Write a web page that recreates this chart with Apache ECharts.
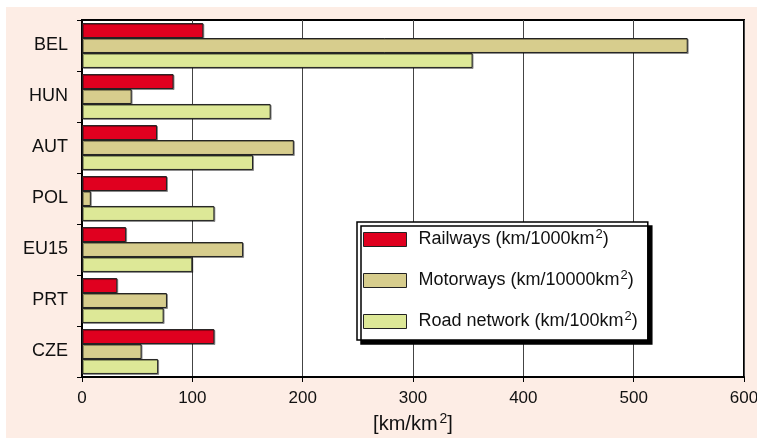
<!DOCTYPE html>
<html>
<head>
<meta charset="utf-8">
<script src="https://cdn.jsdelivr.net/npm/echarts@6/dist/echarts.min.js"></script>
<style>
  body { margin: 0; background: #fff; }
  #bg { position: absolute; left: 6px; top: 7px; width: 751px; height: 431px; background: #fdede5; }
  #main { position: absolute; left: 0; top: 0; width: 757px; height: 438px; }
</style>
</head>
<body>
<div id="bg"></div>
<div id="main"></div>
<script>
// countries, top to bottom
var countries = ['BEL', 'HUN', 'AUT', 'POL', 'EU15', 'PRT', 'CZE'];
var railways = [110, 83, 68, 77, 40, 32, 120];       // km/1000km2
var motorways = [549, 45, 192, 8, 146, 77, 54];      // km/10000km2
var roadNetwork = [354, 171, 155, 120, 100, 74, 69]; // km/100km2
var xTicks = [0, 100, 200, 300, 400, 500, 600];

var seriesNames = ['Railways (km/1000km{s|2})', 'Motorways (km/10000km{s|2})', 'Road network (km/100km{s|2})'];

var myChart = echarts.init(document.getElementById('main'));

function mkSeries(name, data, color) {
  return {
    name: name,
    type: 'bar',
    data: data,
    barGap: '0%',
    barCategoryGap: '12%',
    itemStyle: {
      color: color,
      borderColor: '#222',
      borderWidth: 1,
      shadowColor: 'rgba(0,0,0,0.35)',
      shadowOffsetX: 1,
      shadowOffsetY: 1
    }
  };
}

var option = {
  animation: false,
  textStyle: { fontFamily: 'Liberation Sans, Arial, sans-serif' },
  grid: {
    left: 82, right: 13, top: 20, bottom: 61,
    outerBoundsMode: 'none', containLabel: false,
    show: true, borderColor: '#000', borderWidth: 2, backgroundColor: '#fff'
  },
  legend: {
    orient: 'vertical',
    left: 357,
    top: 222,
    padding: [6, 10, 7, 6],
    icon: 'rect',
    itemWidth: 43,
    itemHeight: 14,
    itemGap: 18,
    backgroundColor: '#fff',
    borderColor: '#000',
    borderWidth: 1.5,
    shadowColor: '#000',
    shadowOffsetX: 4,
    shadowOffsetY: 4,
    shadowBlur: 0,
    itemStyle: { borderColor: '#222', borderWidth: 1, shadowColor: 'transparent' },
    textStyle: {
      fontSize: 18,
      lineHeight: 20,
      color: '#111',
      padding: [0, 0, 0, 7],
      rich: { s: { fontSize: 13, lineHeight: 10, verticalAlign: 'middle', padding: [0, 0, 10, 1] } }
    },
    data: seriesNames
  },
  xAxis: {
    type: 'value',
    min: 0,
    max: 600,
    interval: 100,
    name: '[km/km{s|2}]',
    nameLocation: 'middle',
    nameGap: 35,
    nameTextStyle: {
      fontSize: 20, lineHeight: 22, color: '#111',
      rich: { s: { fontSize: 14, lineHeight: 10, verticalAlign: 'middle', padding: [0, 0, 12, 2] } }
    },
    axisLine: { show: true, lineStyle: { color: '#000', width: 2 } },
    axisTick: { show: true, length: 5, lineStyle: { color: '#000' } },
    axisLabel: { fontSize: 17, color: '#111', margin: 13 },
    splitLine: { show: true, lineStyle: { color: '#444', width: 1 } }
  },
  yAxis: {
    type: 'category',
    data: countries,
    inverse: true,
    axisLine: { show: true, lineStyle: { color: '#000', width: 2 } },
    axisTick: { show: true, length: 5, lineStyle: { color: '#000' } },
    axisLabel: { fontSize: 18, color: '#111', margin: 14 }
  },
  series: [
    mkSeries(seriesNames[0], railways, '#e0001f'),
    mkSeries(seriesNames[1], motorways, '#d7cd8d'),
    mkSeries(seriesNames[2], roadNetwork, '#dde897')
  ]
};

myChart.setOption(option);
</script>
</body>
</html>
